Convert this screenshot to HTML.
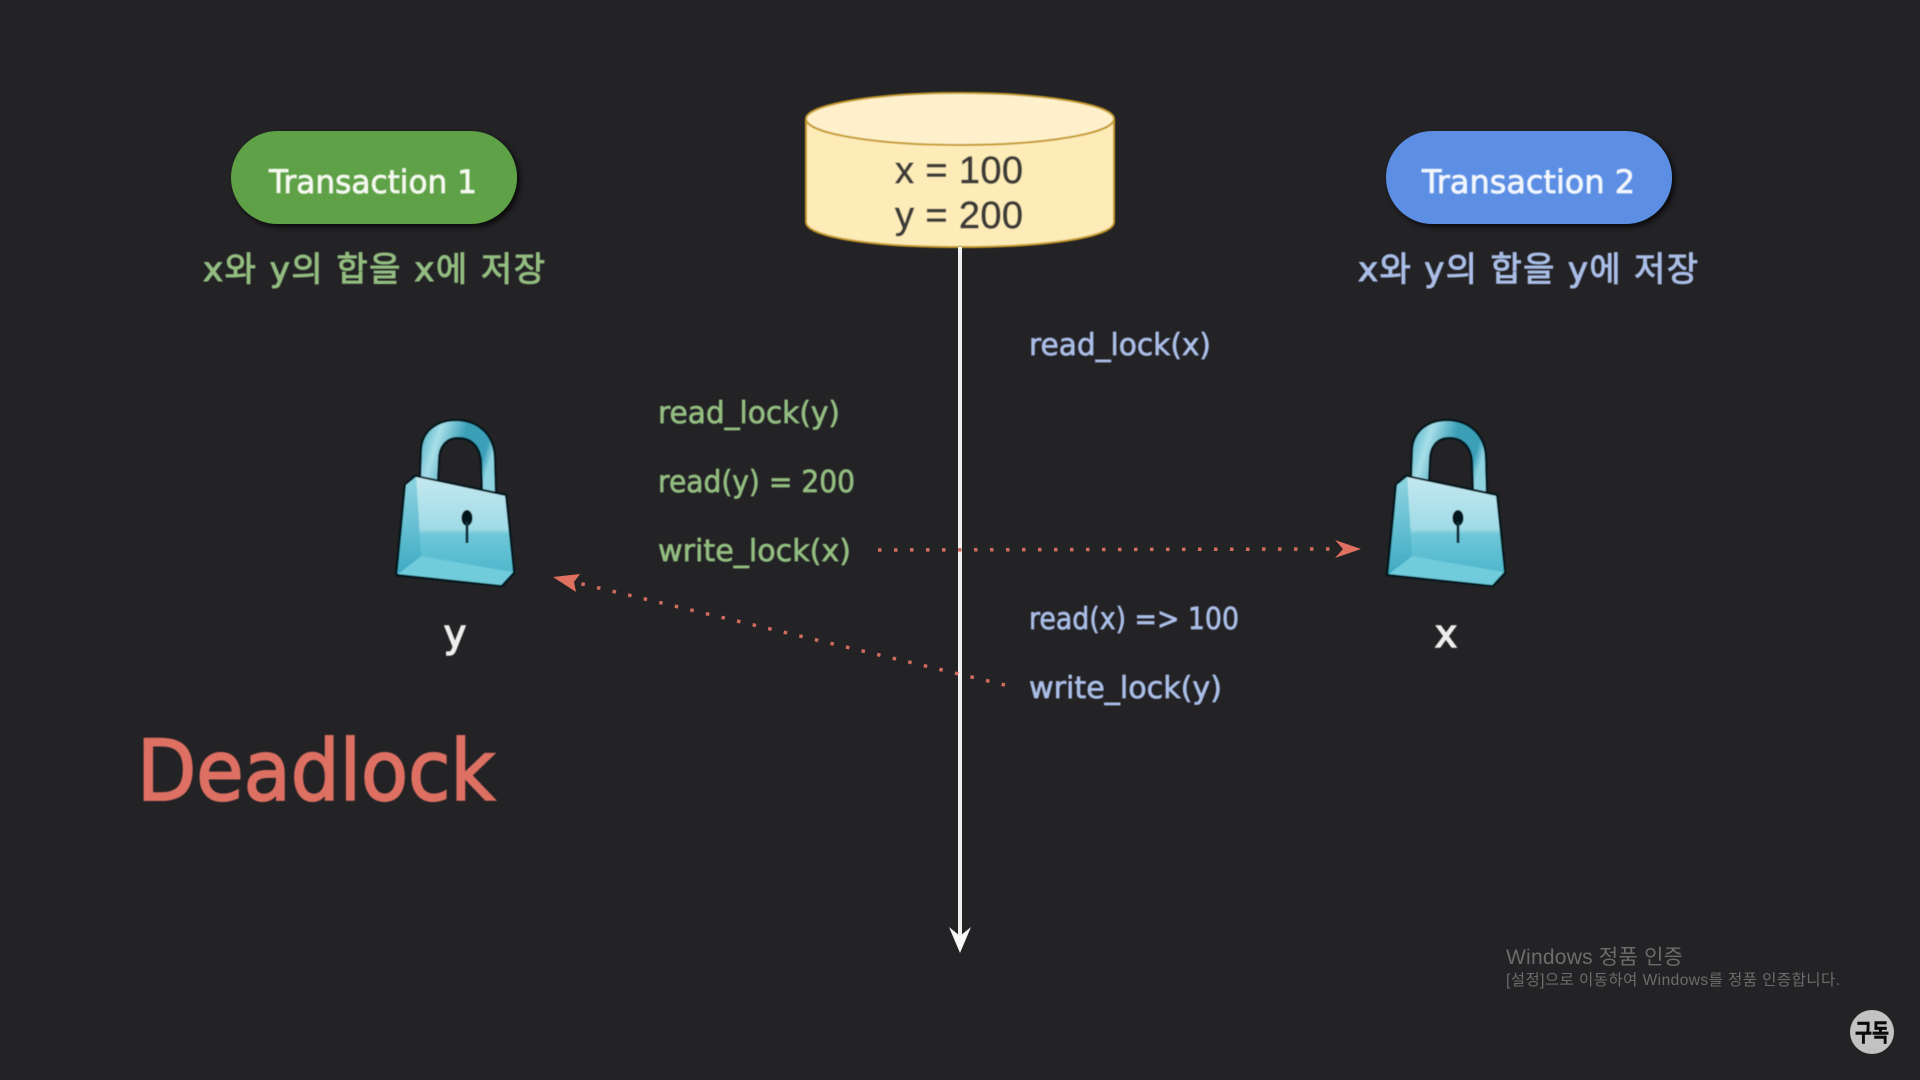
<!DOCTYPE html>
<html><head><meta charset="utf-8"><style>
html,body{margin:0;padding:0;background:#232225;width:1920px;height:1080px;overflow:hidden}
svg{display:block}
.d{font-family:"DejaVu Sans","Noto Sans CJK KR",sans-serif}
.k{font-family:"Liberation Sans","Noto Sans CJK KR",sans-serif}
</style></head><body>
<svg width="1920" height="1080" viewBox="0 0 1920 1080" xmlns="http://www.w3.org/2000/svg">
<defs>
<filter id="sh" x="-10%" y="-20%" width="125%" height="150%"><feDropShadow dx="3" dy="3" stdDeviation="3" flood-color="#000" flood-opacity=".75"/></filter>
<filter id="bl" x="-5%" y="-5%" width="110%" height="110%"><feGaussianBlur stdDeviation=".6"/></filter>
<filter id="tb" x="-5%" y="-20%" width="110%" height="140%"><feGaussianBlur stdDeviation=".45"/></filter>
<linearGradient id="face" x1="0" y1="0" x2="0" y2="1"><stop offset="0" stop-color="#c4e8ef"/><stop offset=".55" stop-color="#9fdbe7"/><stop offset=".6" stop-color="#6fc8d9"/><stop offset="1" stop-color="#4fb7cc"/></linearGradient>
<linearGradient id="lft" x1="0" y1="0" x2="0" y2="1"><stop offset="0" stop-color="#8ed4e2"/><stop offset="1" stop-color="#3fabc3"/></linearGradient>
<linearGradient id="shk" x1="0" y1="0" x2="1" y2="0.3"><stop offset="0" stop-color="#3fa9c0"/><stop offset=".28" stop-color="#a8dfe9"/><stop offset=".6" stop-color="#3a9fb8"/><stop offset=".9" stop-color="#3a9fb8"/><stop offset="1" stop-color="#8ed3e0"/></linearGradient>
<g id="lock" filter="url(#bl)">
<path d="M420 478 L421 450 C422 430 438 420 457 420 C480 421 495 436 495 460 L496 494 L482 491 L481 462 C480 447 472 438 458 438 C446 438 439 447 439 460 L438 481 Z" fill="url(#shk)" stroke="#06181e" stroke-width="2.2"/>
<path d="M415 476 L405 485 L396 575 L502 586 L514 573 L506 495 Z" fill="#42afc6" stroke="#06181e" stroke-width="2.4"/>
<path d="M416 477 L505 496 L513 572 L421 556 Z" fill="url(#face)"/>
<path d="M421 556 L513 572 L501 585 L398 574 Z" fill="#6fcbdb"/>
<path d="M406 485 L416 477 L421 556 L398 574 Z" fill="url(#lft)"/>
<ellipse cx="467" cy="518" rx="5.5" ry="8" fill="#05141a"/>
<path d="M465.5 522 L468.5 522 L468.5 543 L465.5 543 Z" fill="#10303a"/>
</g>
</defs>
<rect width="1920" height="1080" fill="#232225"/>

<!-- pills -->
<rect x="231" y="131" width="286" height="93" rx="46.5" fill="#5fa146" filter="url(#sh)"/>
<rect x="1386" y="131" width="286" height="93" rx="46.5" fill="#5b8fe4" filter="url(#sh)"/>
<g filter="url(#tb)">
<text class="d" x="269" y="193" font-size="32" fill="#f4f8ef" stroke="#f4f8ef" stroke-width=".8" textLength="208" lengthAdjust="spacingAndGlyphs">Transaction 1</text>
<text class="d" x="1422" y="193" font-size="32" fill="#f2f6fd" stroke="#f2f6fd" stroke-width=".8" textLength="213" lengthAdjust="spacingAndGlyphs">Transaction 2</text>
<text class="d" x="203" y="281" font-size="34" fill="#93bd80" stroke="#93bd80" stroke-width="1" textLength="342" lengthAdjust="spacing">x와 y의 합을 x에 저장</text>
<text class="d" x="1358" y="281" font-size="34" fill="#a9bde6" stroke="#a9bde6" stroke-width="1" textLength="340" lengthAdjust="spacing">x와 y의 합을 y에 저장</text>
</g>

<!-- database -->
<g filter="url(#tb)">
<path d="M806 119 L806 222 C806 236 866 247 960 247 C1054 247 1114 236 1114 222 L1114 119 Z" fill="#fdecb8" stroke="#c69b2c" stroke-width="2"/>
<ellipse cx="960" cy="119" rx="154" ry="26" fill="#fdf0cb" stroke="#c69b2c" stroke-width="2"/>
<text class="k" x="895" y="183" font-size="38" fill="#3e3b38" stroke="#3e3b38" stroke-width=".7" textLength="128" lengthAdjust="spacing">x = 100</text>
<text class="k" x="895" y="228" font-size="38" fill="#3e3b38" stroke="#3e3b38" stroke-width=".7" textLength="128" lengthAdjust="spacing">y = 200</text>
</g>

<!-- timeline -->
<line x1="960" y1="247" x2="960" y2="940" stroke="#f0f0f0" stroke-width="4"/>
<polygon points="960,953 949,927 960,936 971,927" fill="#f8f8f8"/>

<!-- dotted arrows -->
<line x1="878" y1="550" x2="1338" y2="549" stroke="#cf6c5d" stroke-width="3.5" stroke-dasharray="3.5 12.5"/>
<polygon points="1361,549 1335,540 1343,549 1335,558" fill="#e0705f"/>
<line x1="1005" y1="685" x2="578" y2="583" stroke="#cf6c5d" stroke-width="3.5" stroke-dasharray="3.5 12.5"/>
<polygon points="553,577 580,574 574,582 576,592" fill="#e0705f"/>

<!-- labels -->
<g filter="url(#tb)" font-size="30" stroke-width=".7">
<text class="d" x="658" y="423" fill="#93bd80" stroke="#93bd80" textLength="182" lengthAdjust="spacingAndGlyphs">read_lock(y)</text>
<text class="d" x="658" y="492" fill="#93bd80" stroke="#93bd80" textLength="197" lengthAdjust="spacingAndGlyphs">read(y) = 200</text>
<text class="d" x="658" y="561" fill="#93bd80" stroke="#93bd80" textLength="193" lengthAdjust="spacingAndGlyphs">write_lock(x)</text>
<text class="d" x="1029" y="355" fill="#a9bde6" stroke="#a9bde6" textLength="182" lengthAdjust="spacingAndGlyphs">read_lock(x)</text>
<text class="d" x="1029" y="629" fill="#a9bde6" stroke="#a9bde6" textLength="210" lengthAdjust="spacingAndGlyphs">read(x) =&gt; 100</text>
<text class="d" x="1029" y="698" fill="#a9bde6" stroke="#a9bde6" textLength="193" lengthAdjust="spacingAndGlyphs">write_lock(y)</text>
<text class="d" x="455" y="647" font-size="38" fill="#eeeeee" stroke="#eeeeee" stroke-width="1.4" text-anchor="middle">y</text>
<text class="d" x="1446" y="647" font-size="38" fill="#eeeeee" stroke="#eeeeee" stroke-width="1.4" text-anchor="middle">x</text>
<text class="d" x="137" y="800" font-size="84" fill="#dd7062" stroke="#dd7062" stroke-width="2" textLength="358" lengthAdjust="spacingAndGlyphs">Deadlock</text>
</g>

<!-- locks -->
<use href="#lock"/>
<use href="#lock" transform="translate(991 0)"/>

<!-- watermark -->
<text class="k" x="1506" y="964" font-size="21" fill="#6c6c6c" textLength="177" lengthAdjust="spacing">Windows 정품 인증</text>
<text class="k" x="1506" y="985" font-size="15.5" fill="#6c6c6c" textLength="334" lengthAdjust="spacing">[설정]으로 이동하여 Windows를 정품 인증합니다.</text>
<circle cx="1872" cy="1032" r="22" fill="#c2c2c2"/>
<text class="k" x="1872" y="1041" font-size="24" font-weight="700" fill="#0a0a0a" stroke="#0a0a0a" stroke-width=".6" text-anchor="middle" textLength="34" lengthAdjust="spacingAndGlyphs">구독</text>
</svg>
</body></html>
